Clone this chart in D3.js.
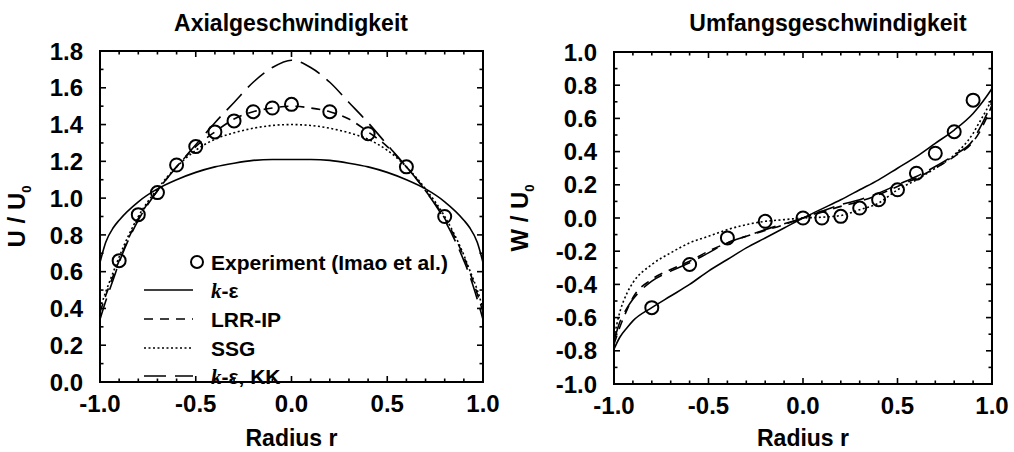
<!DOCTYPE html>
<html>
<head>
<meta charset="utf-8">
<script src="https://cdn.jsdelivr.net/npm/d3@7"></script>
<style>
  html, body { margin: 0; padding: 0; background: #fff; }
  svg { display: block; }
  text { font-family: "Liberation Sans", Arial, Helvetica, sans-serif; font-weight: bold; fill: #000; }
</style>
</head>
<body>
<svg id="chart" width="1014" height="452"></svg>
<script>
// ---- Axial velocity (left panel) ----
const axialR = [-1, -0.97, -0.93, -0.9, -0.8, -0.7, -0.6, -0.5, -0.4, -0.3, -0.2, -0.1, 0,
                0.1, 0.2, 0.3, 0.4, 0.5, 0.6, 0.7, 0.8, 0.9, 0.93, 0.97, 1];
const axialKEps = [0.65, 0.76, 0.84, 0.88, 0.98, 1.05, 1.10, 1.14, 1.17, 1.19, 1.205, 1.21, 1.21,
                   1.21, 1.205, 1.19, 1.17, 1.14, 1.10, 1.05, 0.98, 0.88, 0.84, 0.76, 0.65];
const axialLRR = [0.38, 0.47, 0.58, 0.66, 0.89, 1.04, 1.17, 1.28, 1.36, 1.43, 1.47, 1.49, 1.50,
                  1.49, 1.47, 1.43, 1.36, 1.28, 1.17, 1.04, 0.89, 0.68, 0.60, 0.48, 0.38];
const axialSSG = [0.40, 0.49, 0.60, 0.68, 0.90, 1.05, 1.17, 1.26, 1.32, 1.355, 1.38, 1.395, 1.40,
                  1.395, 1.38, 1.355, 1.32, 1.26, 1.17, 1.05, 0.90, 0.69, 0.61, 0.50, 0.40];
const axialKK = [0.34, 0.44, 0.56, 0.65, 0.88, 1.04, 1.17, 1.29, 1.41, 1.52, 1.63, 1.71, 1.75,
                 1.71, 1.63, 1.52, 1.41, 1.29, 1.17, 1.04, 0.88, 0.66, 0.58, 0.45, 0.34];
const axialExpR = [-0.9, -0.8, -0.7, -0.6, -0.5, -0.4, -0.3, -0.2, -0.1, 0, 0.2, 0.4, 0.6, 0.8];
const axialExpU = [0.66, 0.91, 1.03, 1.18, 1.28, 1.36, 1.42, 1.47, 1.49, 1.51, 1.47, 1.35, 1.17, 0.90];

// ---- Swirl velocity (right panel) ----
const swirlR = axialR;
const swirlKEps = [-0.79, -0.72, -0.66, -0.62, -0.54, -0.47, -0.40, -0.32, -0.25, -0.18, -0.12, -0.06, 0,
                   0.055, 0.11, 0.17, 0.23, 0.30, 0.37, 0.45, 0.53, 0.63, 0.67, 0.73, 0.78];
const swirlLRR = [-0.76, -0.66, -0.55, -0.48, -0.37, -0.31, -0.26, -0.20, -0.15, -0.11, -0.075, -0.04, 0,
                  0.035, 0.07, 0.10, 0.14, 0.19, 0.24, 0.30, 0.37, 0.46, 0.51, 0.60, 0.68];
const swirlSSG = [-0.72, -0.57, -0.45, -0.39, -0.28, -0.21, -0.15, -0.11, -0.07, -0.04, -0.02, -0.01, 0,
                  0.005, 0.015, 0.05, 0.09, 0.17, 0.23, 0.30, 0.38, 0.51, 0.57, 0.65, 0.72];
const swirlKK = [-0.74, -0.63, -0.54, -0.49, -0.38, -0.32, -0.27, -0.21, -0.15, -0.11, -0.07, -0.035, 0,
                 0.04, 0.08, 0.11, 0.15, 0.20, 0.25, 0.31, 0.38, 0.47, 0.53, 0.62, 0.70];
const swirlExpR = [-0.8, -0.6, -0.4, -0.2, 0, 0.1, 0.2, 0.3, 0.4, 0.5, 0.6, 0.7, 0.8, 0.9];
const swirlExpW = [-0.54, -0.28, -0.12, -0.02, 0, 0, 0.01, 0.06, 0.11, 0.17, 0.27, 0.39, 0.52, 0.71];

// ---- tick labels ----
const xTickValues = [-1, -0.5, 0, 0.5, 1];
const axialYTicks = [0, 0.2, 0.4, 0.6, 0.8, 1.0, 1.2, 1.4, 1.6, 1.8];
const swirlYTicks = [-1, -0.8, -0.6, -0.4, -0.2, 0, 0.2, 0.4, 0.6, 0.8, 1.0];

const legendLabels = ["Experiment (Imao et al.)", "k-ε", "LRR-IP", "SSG", "k-ε, KK"];

// line styles per model
const styles = {
  kEps: { dash: null },
  LRR:  { dash: "9,7" },
  SSG:  { dash: "2,2.5" },
  KK:   { dash: "22,9" }
};

const svg = d3.select("#chart");

function panel(opts) {
  const { left, right, top, bottom, yDomain, yTicks, title, titleX, yLabelMain, yLabelX, series, expR, expV } = opts;
  const x = d3.scaleLinear().domain([-1, 1]).range([left, right]);
  const y = d3.scaleLinear().domain(yDomain).range([bottom, top]);
  const g = svg.append("g");

  // inward ticks on all four sides: minor every 0.1, major at labelled values
  const minorX = d3.range(-10, 11).map(d => d / 10);
  const minorY = d3.range(Math.round(yDomain[0] * 10), Math.round(yDomain[1] * 10) + 1).map(d => d / 10);
  const isMajorX = v => Math.abs(v * 2 - Math.round(v * 2)) < 1e-6;
  const isMajorY = v => yTicks.some(t => Math.abs(t - v) < 1e-6);

  const tickG = g.append("g").attr("stroke", "#000").attr("stroke-width", 1.6);
  minorX.forEach(v => {
    const L = isMajorX(v) ? 6 : 3.5;
    tickG.append("line").attr("x1", x(v)).attr("x2", x(v)).attr("y1", bottom).attr("y2", bottom - L);
    tickG.append("line").attr("x1", x(v)).attr("x2", x(v)).attr("y1", top).attr("y2", top + L);
  });
  minorY.forEach(v => {
    const L = isMajorY(v) ? 6 : 3.5;
    tickG.append("line").attr("y1", y(v)).attr("y2", y(v)).attr("x1", left).attr("x2", left + L);
    tickG.append("line").attr("y1", y(v)).attr("y2", y(v)).attr("x1", right).attr("x2", right - L);
  });

  // frame
  g.append("rect").attr("x", left).attr("y", top).attr("width", right - left).attr("height", bottom - top)
    .attr("fill", "none").attr("stroke", "#000").attr("stroke-width", 2);

  // tick labels
  const fmt = d3.format(".1f");
  g.selectAll(".xl").data(xTickValues).join("text")
    .attr("x", d => x(d)).attr("y", bottom + 30)
    .attr("text-anchor", "middle").attr("font-size", 24)
    .text(d => fmt(d).replace("−", "-"));
  g.selectAll(".yl").data(yTicks).join("text")
    .attr("x", left - 17).attr("y", d => y(d)).attr("dy", "0.36em")
    .attr("text-anchor", "end").attr("font-size", 24)
    .text(d => fmt(d).replace("−", "-"));

  // titles
  g.append("text").attr("x", titleX).attr("y", 31).attr("text-anchor", "middle")
    .attr("font-size", 23).text(title);
  g.append("text").attr("x", (left + right) / 2).attr("y", 446).attr("text-anchor", "middle")
    .attr("font-size", 23).text("Radius r");
  const yl = g.append("text")
    .attr("transform", `translate(${yLabelX},${(top + bottom) / 2}) rotate(-90)`)
    .attr("text-anchor", "middle").attr("font-size", 24);
  yl.append("tspan").text(yLabelMain + " / U");
  yl.append("tspan").attr("font-size", 13).attr("dy", 6).text("0");

  // model curves
  const clipId = "clip" + left;
  svg.append("clipPath").attr("id", clipId).append("rect")
    .attr("x", left).attr("y", top).attr("width", right - left).attr("height", bottom - top);
  const line = d3.line().x(d => x(d[0])).y(d => y(d[1])).curve(d3.curveMonotoneX);
  series.forEach(s => {
    g.append("path")
      .attr("clip-path", `url(#${clipId})`)
      .attr("d", line(s.r.map((r, i) => [r, s.v[i]])))
      .attr("fill", "none").attr("stroke", "#000").attr("stroke-width", 1.6)
      .attr("stroke-dasharray", styles[s.key].dash);
  });

  // measured points
  g.selectAll(".pt").data(expR.map((r, i) => [r, expV[i]])).join("circle")
    .attr("cx", d => x(d[0])).attr("cy", d => y(d[1])).attr("r", 6.5)
    .attr("fill", "none").attr("stroke", "#000").attr("stroke-width", 2);

  return { x, y, g };
}

panel({
  left: 100, right: 483, top: 51, bottom: 382,
  yDomain: [0, 1.8], yTicks: axialYTicks,
  title: "Axialgeschwindigkeit", titleX: 291,
  yLabelMain: "U", yLabelX: 25,
  series: [
    { key: "kEps", r: axialR, v: axialKEps },
    { key: "LRR", r: axialR, v: axialLRR },
    { key: "SSG", r: axialR, v: axialSSG },
    { key: "KK", r: axialR, v: axialKK }
  ],
  expR: axialExpR, expV: axialExpU
});

panel({
  left: 614, right: 992, top: 52, bottom: 384,
  yDomain: [-1, 1], yTicks: swirlYTicks,
  title: "Umfangsgeschwindigkeit", titleX: 828,
  yLabelMain: "W", yLabelX: 528,
  series: [
    { key: "kEps", r: swirlR, v: swirlKEps },
    { key: "LRR", r: swirlR, v: swirlLRR },
    { key: "SSG", r: swirlR, v: swirlSSG },
    { key: "KK", r: swirlR, v: swirlKK }
  ],
  expR: swirlExpR, expV: swirlExpW
});

// legend inside the axial panel
const leg = svg.append("g");
const legX0 = 144, legX1 = 193, legText = 211;
const rowY = [262, 290, 319, 348, 376];
leg.append("circle").attr("cx", 197).attr("cy", rowY[0]).attr("r", 6)
  .attr("fill", "none").attr("stroke", "#000").attr("stroke-width", 2);
leg.append("text").attr("x", legText).attr("y", rowY[0]).attr("dy", "0.36em")
  .attr("font-size", 21).text(legendLabels[0]);
["kEps", "LRR", "SSG", "KK"].forEach((k, i) => {
  const yy = rowY[i + 1];
  leg.append("line").attr("x1", legX0).attr("x2", legX1).attr("y1", yy).attr("y2", yy)
    .attr("stroke", "#000").attr("stroke-width", 1.6).attr("stroke-dasharray", styles[k].dash);
  const t = leg.append("text").attr("x", legText).attr("y", yy).attr("dy", "0.36em").attr("font-size", 21);
  const lab = legendLabels[i + 1];
  if (lab.startsWith("k")) {
    t.append("tspan").attr("font-style", "italic").attr("font-family", "'Liberation Serif', serif").text("k");
    t.append("tspan").text(lab.slice(1));
  } else {
    t.text(lab);
  }
});
</script>
</body>
</html>
